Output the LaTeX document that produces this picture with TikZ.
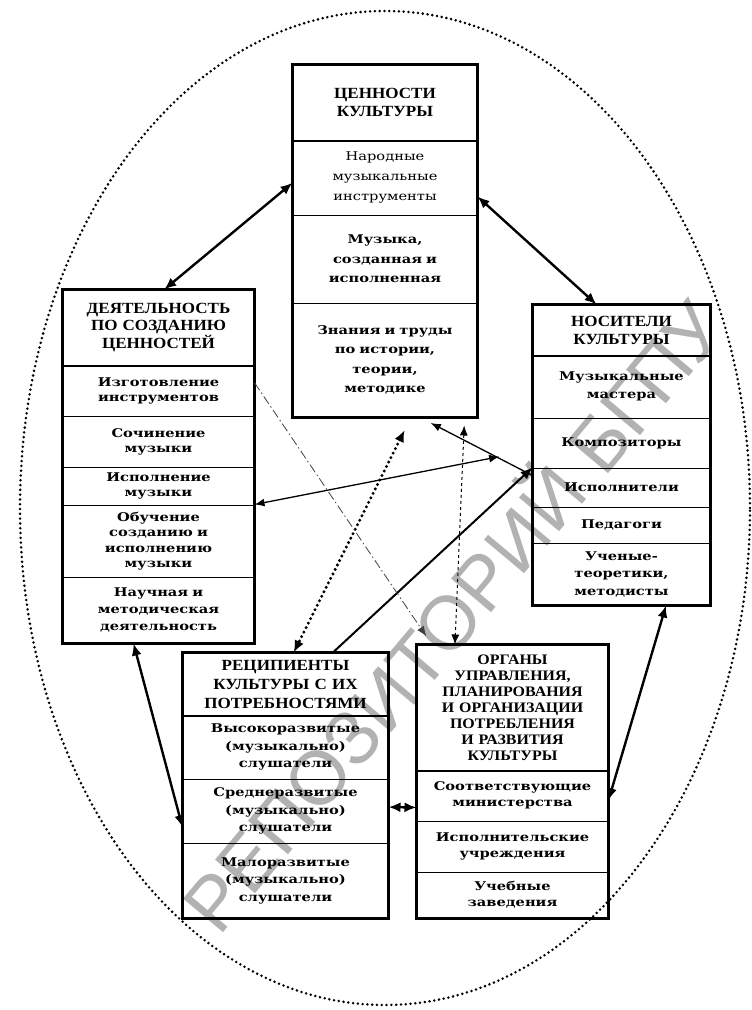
\documentclass[tikz,border=0pt]{standalone}
\usepackage{fontspec}
\setmainfont{Liberation Serif}
\newfontfamily\ttlfont[FakeStretch=1.1]{Liberation Serif}
\newfontfamily\itmfont[FakeStretch=1.22]{DejaVu Serif}
\newfontfamily\wmfont{Liberation Sans}
\usetikzlibrary{arrows.meta, calc}
\tikzset{
  sec/.style={rectangle, draw, line width=1pt, inner sep=0pt, align=center},
  ttl/.style={font=\ttlfont\bfseries\fontsize{15.5}{#1}\selectfont},
  ttl/.default=17.5,
  itm/.style={font=\itmfont\bfseries\fontsize{12}{#1}\selectfont},
  itm/.default=16.5,
  frame/.style={line width=3.5pt},
  bigarrow/.style={<->, line width=2.4pt},
  thinarrow/.style={line width=1.3pt, >={Latex[length=10pt,width=8pt]}},
  ovaldots/.style={line width=2.8pt, dash pattern=on 0pt off 4.8pt, line cap=round},
  wmark/.style={font=\wmfont\fontsize{76}{76}\selectfont, text=black!30}
}

\begin{document}
\begin{tikzpicture}[x=1pt, y=-1pt, >={Latex[length=12pt,width=10pt]}]
\useasboundingbox (0,0) rectangle (752,1010);
\node[wmark, rotate=50] (wm) at (448,612) {РЕПОЗИТОРИЙ БГПУ};
\draw[ovaldots] (385,508) ellipse [x radius=365pt, y radius=497pt];

\node[sec, ttl] at (385,102.5) [minimum width=184, minimum height=75, text width=174] (C0) {ЦЕННОСТИ\\КУЛЬТУРЫ};
\node[sec, font=\itmfont\fontsize{12}{20}\selectfont] at (385,177.5) [minimum width=184, minimum height=75, text width=174] (C1) {Народные\\музыкальные\\инструменты};
\node[sec, itm=19.5] at (385,259) [minimum width=184, minimum height=88, text width=174] (C2) {Музыка,\\созданная и\\исполненная};
\node[sec, itm=19.5] at (385,360) [minimum width=184, minimum height=114, text width=174] (C3) {Знания и труды\\по истории,\\теории,\\методике};
\draw[frame] (C0.north west) rectangle (C3.south east);
\draw[line width=2pt] (C0.south west) -- (C0.south east);

\node[sec, ttl=17.5] at (158.5,327.5) [minimum width=191, minimum height=75, text width=181] (D0) {ДЕЯТЕЛЬНОСТЬ\\ПО СОЗДАНИЮ\\ЦЕННОСТЕЙ};
\node[sec, itm=15] at (158.5,390.5) [minimum width=191, minimum height=51, text width=181] (D1) {Изготовление\\инструментов};
\node[sec, itm=15] at (158.5,441.5) [minimum width=191, minimum height=51, text width=181] (D2) {Сочинение\\музыки};
\node[sec, itm=15] at (158.5,486) [minimum width=191, minimum height=38, text width=181] (D3) {Исполнение\\музыки};
\node[sec, itm=15.5] at (158.5,541) [minimum width=191, minimum height=72, text width=181] (D4) {Обучение\\созданию и\\исполнению\\музыки};
\node[sec, itm=17] at (158.5,610) [minimum width=191, minimum height=66, text width=181] (D5) {Научная и\\методическая\\деятельность};
\draw[frame] (D0.north west) rectangle (D5.south east);
\draw[line width=2pt] (D0.south west) -- (D0.south east);

\node[sec, ttl=18] at (621.5,330) [minimum width=177, minimum height=50, text width=167] (N0) {НОСИТЕЛИ\\КУЛЬТУРЫ};
\node[sec, itm=18] at (621.5,386.5) [minimum width=177, minimum height=63, text width=167] (N1) {Музыкальные\\мастера};
\node[sec, itm] at (621.5,443) [minimum width=177, minimum height=50, text width=167] (N2) {Композиторы};
\node[sec, itm] at (621.5,487.5) [minimum width=177, minimum height=39, text width=167] (N3) {Исполнители};
\node[sec, itm] at (621.5,525) [minimum width=177, minimum height=36, text width=167] (N4) {Педагоги};
\node[sec, itm=17.5] at (621.5,574) [minimum width=177, minimum height=62, text width=167] (N5) {Ученые-\\теоретики,\\методисты};
\draw[frame] (N0.north west) rectangle (N5.south east);
\draw[line width=2pt] (N0.south west) -- (N0.south east);

\node[sec, ttl=19] at (285.5,684) [minimum width=205, minimum height=62, text width=195] (R0) {РЕЦИПИЕНТЫ\\КУЛЬТУРЫ С ИХ\\ПОТРЕБНОСТЯМИ};
\node[sec, itm=17.5] at (285.5,747) [minimum width=205, minimum height=64, text width=195] (R1) {Высокоразвитые\\(музыкально)\\слушатели};
\node[sec, itm=17.5] at (285.5,811) [minimum width=205, minimum height=64, text width=195] (R2) {Среднеразвитые\\(музыкально)\\слушатели};
\node[sec, itm=17.5] at (285.5,880.5) [minimum width=205, minimum height=75, text width=195] (R3) {Малоразвитые\\(музыкально)\\слушатели};
\draw[frame] (R0.north west) rectangle (R3.south east);
\draw[line width=2pt] (R0.south west) -- (R0.south east);

\node[sec, font=\ttlfont\bfseries\fontsize{14.5}{16}\selectfont] at (512.5,707.5) [minimum width=191, minimum height=125, text width=185] (O0) {ОРГАНЫ\\УПРАВЛЕНИЯ,\\ПЛАНИРОВАНИЯ\\И ОРГАНИЗАЦИИ\\ПОТРЕБЛЕНИЯ\\И РАЗВИТИЯ\\КУЛЬТУРЫ};
\node[sec, itm] at (512.5,795.5) [minimum width=191, minimum height=51, text width=181] (O1) {Соответствующие\\министерства};
\node[sec, itm] at (512.5,846.5) [minimum width=191, minimum height=51, text width=181] (O2) {Исполнительские\\учреждения};
\node[sec, itm=16] at (512.5,895) [minimum width=191, minimum height=46, text width=181] (O3) {Учебные\\заведения};
\draw[frame] (O0.north west) rectangle (O3.south east);
\draw[line width=2pt] (O0.south west) -- (O0.south east);

\draw[bigarrow] ($(C1.north west)!0.57!(C1.south west)$) -- ($(D0.north west)!0.53!(D0.north east)$);
\draw[bigarrow] ($(C1.north east)!0.75!(C1.south east)$) -- ($(N0.north west)!0.36!(N0.north east)$);
\draw[bigarrow] ($(D5.south west)!0.37!(D5.south east)$) -- ($(R2.north west)!0.75!(R2.south west)$);
\draw[bigarrow] ($(O1.north east)!0.59!(O1.south east)$) -- ($(N5.south west)!0.75!(N5.south east)$);
\draw[bigarrow] ($(R2.north east)!0.44!(R2.south east)$) -- ($(O1.north west)!0.73!(O1.south west)$);
\draw[<->, ovaldots, line width=3.3pt, dash pattern=on 0pt off 5pt, shorten <=14pt] ($(C3.south west)!0.64!(C3.south east)$) -- ($(R0.north west)!0.54!(R0.north east)$);
\draw[->, line width=2pt] ($(R0.north west)!0.73!(R0.north east)$) -- (N3.north west);
\draw[->, thinarrow, shorten >=12pt] ($(N3.north west)!0.2!(N3.south west)$) -- ($(C3.south west)!0.69!(C3.south east)$);
\draw[<->, thinarrow, shorten >=34pt] (D4.north east) -- ($(N2.north west)!0.64!(N2.south west)$);
\draw[->, thinarrow, line width=0.8pt, black!75, dash pattern=on 9pt off 3pt on 1.5pt off 3pt, shorten >=10pt] ($(D1.north east)!0.35!(D1.south east)$) -- ($(O0.north west)!0.08!(O0.north east)$);
\draw[<->, thinarrow, line width=1pt, dashed, shorten <=8pt] ($(C3.south west)!0.93!(C3.south east)$) -- ($(O0.north west)!0.2!(O0.north east)$);
\end{tikzpicture}
\end{document}
